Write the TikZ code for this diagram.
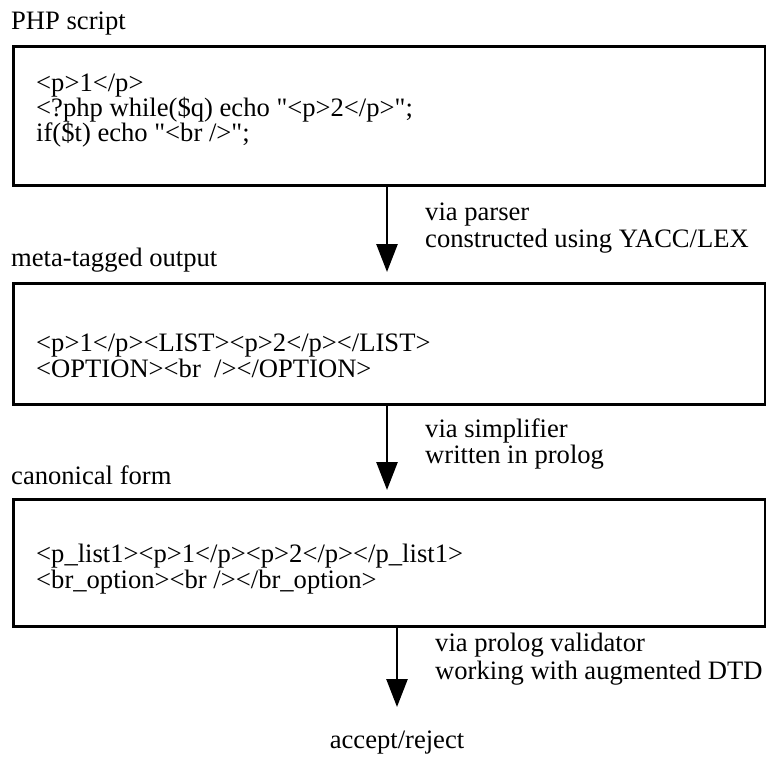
\documentclass[tikz,border=0pt]{standalone}
\usepackage{fontspec}
\setmainfont{Liberation Serif}[Ligatures=TeXOff]
\usetikzlibrary{arrows.meta}
\begin{document}
\begin{tikzpicture}[x=1pt,y=-1pt,
  stage/.style={draw=black, line width=2.8pt, anchor=north west, inner sep=0pt},
  txt/.style={anchor=base west, inner sep=0pt, font=\fontsize{26.6}{26}\selectfont},
  flow/.style={line width=2.6pt, -{Triangle[length=28pt,width=21pt]}}]
\useasboundingbox (0,0) rectangle (766,756);

% stage boxes
\node[stage, minimum width=752pt, minimum height=139pt] (b1) at (12,45) {};
\node[stage, minimum width=752pt, minimum height=121pt] (b2) at (12,282) {};
\node[stage, minimum width=752pt, minimum height=127pt] (b3) at (12,498) {};

% stage titles
\node[txt] (t1) at (11,29) {PHP script};
\node[txt] (t2) at (11,266) {meta-tagged output};
\node[txt] (t3) at (11,484) {canonical form};

% box contents
\node[txt] (c11) at (36,91) {<p>1</p>};
\node[txt] (c12) at (36,116) {<?php while(\$q) echo "<p>2</p>";};
\node[txt] (c13) at (36,141) {if(\$t) echo "<br />";};
\node[txt] (c21) at (36,351) {<p>1</p><LIST><p>2</p></LIST>};
\node[txt] (c22) at (36,377) {<OPTION><br\ \ /></OPTION>};
\node[txt] (c31) at (36,562) {<p\_list1><p>1</p><p>2</p></p\_list1>};
\node[txt] (c32) at (36,588) {<br\_option><br /></br\_option>};

% result
\node[anchor=base, inner sep=0pt, font=\fontsize{26.6}{26}\selectfont] (res) at (397,748) {accept/reject};

% arrow end points
\coordinate (e1) at (387,272);
\coordinate (e2) at (387,490);
\coordinate (e3) at (397,707);

\draw[flow] (b1.south west -| e1) -- (e1);
\draw[flow] (b2.south west -| e2) -- (e2);
\draw[flow] (b3.south west -| e3) -- (e3);

% arrow labels
\node[txt] (l11) at (425,220) {via parser};
\node[txt] (l12) at (425,247) {constructed using YACC/LEX};
\node[txt] (l21) at (425,437) {via simplifier};
\node[txt] (l22) at (425,463) {written in prolog};
\node[txt] (l31) at (435,651) {via prolog validator};
\node[txt] (l32) at (435,679) {working with augmented DTD};
\end{tikzpicture}
\end{document}
